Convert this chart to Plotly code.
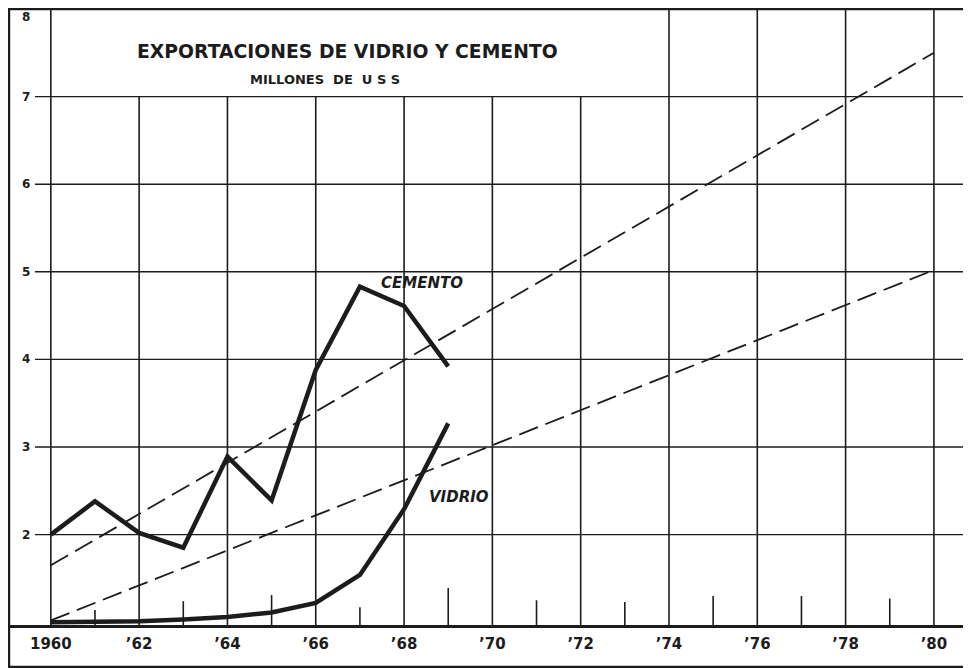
import plotly.graph_objects as go

# ---- data ----
years = [1960, 1961, 1962, 1963, 1964, 1965, 1966, 1967, 1968, 1969]
cemento = [2.0, 2.38, 2.02, 1.85, 2.89, 2.39, 3.88, 4.83, 4.61, 3.92]
vidrio = [1.0, 1.0, 1.01, 1.03, 1.06, 1.11, 1.22, 1.54, 2.29, 3.27]

trend_years = [1960, 1980]
cemento_trend = [1.65, 7.5]
vidrio_trend = [1.02, 5.02]

x_tick_years = [1960, 1962, 1964, 1966, 1968, 1970, 1972, 1974, 1976, 1978, 1980]
x_tick_labels = ["1960", "’62", "’64", "’66", "’68", "’70", "’72", "’74", "’76", "’78", "’80"]
y_ticks = [2, 3, 4, 5, 6, 7, 8]
minor_tick_years = [1961, 1963, 1965, 1967, 1969, 1971, 1973, 1975, 1977, 1979]
minor_tick_tops = [1.14, 1.24, 1.31, 1.17, 1.39, 1.25, 1.23, 1.30, 1.30, 1.27]
title_box_years = [1962, 1964, 1966, 1968, 1970, 1972]  # gridlines stopping under the title

X_RANGE = [1959.03, 1980.84]
Y_RANGE = [0.968, 8.0]
INK = "#1c1c1c"
FONT = "DejaVu Sans"

fig = go.Figure()

# vertical grid lines
vx, vy = [], []
for yr in x_tick_years:
    top = 7 if yr in title_box_years else 8
    vx += [yr, yr, None]
    vy += [Y_RANGE[0], top, None]
fig.add_trace(go.Scatter(x=vx, y=vy, mode="lines", line=dict(color=INK, width=1.6),
                         hoverinfo="skip", cliponaxis=False))

# horizontal grid lines (with small left ticks)
hx, hy = [], []
for v in y_ticks[:-1]:
    hx += [1959.64, X_RANGE[1], None]
    hy += [v, v, None]
fig.add_trace(go.Scatter(x=hx, y=hy, mode="lines", line=dict(color=INK, width=1.4),
                         hoverinfo="skip"))

# minor ticks at odd years
mx, my = [], []
for yr, t in zip(minor_tick_years, minor_tick_tops):
    mx += [yr, yr, None]
    my += [Y_RANGE[0], t, None]
fig.add_trace(go.Scatter(x=mx, y=my, mode="lines", line=dict(color=INK, width=1.6),
                         hoverinfo="skip"))

# trend lines
fig.add_trace(go.Scatter(x=trend_years, y=cemento_trend, mode="lines",
                         line=dict(color=INK, width=1.8, dash="20px,8px"), name="Tendencia cemento"))
fig.add_trace(go.Scatter(x=trend_years, y=vidrio_trend, mode="lines",
                         line=dict(color=INK, width=1.8, dash="20px,8px"), name="Tendencia vidrio"))

# data series
fig.add_trace(go.Scatter(x=years, y=cemento, mode="lines",
                         line=dict(color=INK, width=4.5), name="Cemento"))
fig.add_trace(go.Scatter(x=years, y=vidrio, mode="lines",
                         line=dict(color=INK, width=4.5), name="Vidrio"))

annotations = []
for v in y_ticks:
    annotations.append(dict(x=1959.43, y=v, xref="x", yref="y", text=f"<b>{v}</b>",
                            showarrow=False, yshift=-8 if v == 8 else 0,
                            font=dict(family=FONT, size=12, color=INK)))
annotations += [
    dict(x=1966.72, y=7.52, xref="x", yref="y", text="<b>EXPORTACIONES DE VIDRIO Y CEMENTO</b>",
         showarrow=False, font=dict(family=FONT, size=18.8, color=INK)),
    dict(x=1966.2, y=7.2, xref="x", yref="y", text="<b>MILLONES  DE  U S S</b>",
         showarrow=False, font=dict(family=FONT, size=13, color=INK)),
    dict(x=1968.4, y=4.87, xref="x", yref="y", text="<b><i>CEMENTO</i></b>",
         showarrow=False, font=dict(family=FONT, size=15, color=INK)),
    dict(x=1969.25, y=2.43, xref="x", yref="y", text="<b><i>VIDRIO</i></b>",
         showarrow=False, font=dict(family=FONT, size=15, color=INK)),
]

shapes = [
    dict(type="line", xref="paper", yref="paper", x0=0, x1=1, y0=1, y1=1,
         line=dict(color=INK, width=2.5)),
    dict(type="line", xref="paper", yref="paper", x0=0.001, x1=0.001, y0=-0.068, y1=1,
         line=dict(color=INK, width=2.5)),
    dict(type="line", xref="paper", yref="paper", x0=0, x1=1, y0=-0.068, y1=-0.068,
         line=dict(color=INK, width=2.5)),
]

# the page body adds an 8px margin, so the figure is sized to fit the 971x668 window
fig.update_layout(
    width=963, height=660,
    margin=dict(l=0, r=0, t=1, b=43),
    paper_bgcolor="white", plot_bgcolor="white",
    showlegend=False, hovermode=False,
    annotations=annotations, shapes=shapes,
    font=dict(family=FONT, color=INK),
)
fig.update_xaxes(range=X_RANGE, tickvals=x_tick_years, ticktext=x_tick_labels,
                 showgrid=False, zeroline=False, showline=True, linecolor=INK, linewidth=2.5,
                 ticks="", ticklabelstandoff=3,
                 tickfont=dict(family=FONT, size=15, color=INK, weight="bold"))
fig.update_yaxes(range=Y_RANGE, showgrid=False, zeroline=False, showticklabels=False,
                 showline=False, ticks="")

fig.write_html("out.html")
